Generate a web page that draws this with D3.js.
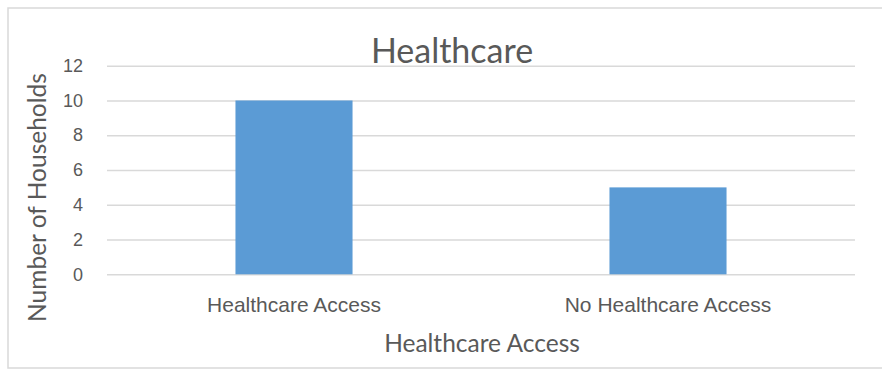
<!DOCTYPE html>
<html>
<head>
<meta charset="utf-8">
<script src="https://cdn.jsdelivr.net/npm/d3@7/dist/d3.min.js"></script>
<style>
  html, body { margin: 0; padding: 0; background: #fff; }
  svg { display: block; font-family: Lato, "Open Sans", sans-serif; }
</style>
</head>
<body>
<svg id="chart" width="882" height="369"></svg>
<script>
// Households by healthcare access
const categories = ["Healthcare Access", "No Healthcare Access"];
const households = [10, 5];
const yTicks = [0, 2, 4, 6, 8, 10, 12];

const chartTitle = "Healthcare";
const xTitle = "Healthcare Access";
const yTitle = "Number of Households";

const svg = d3.select("#chart");
const plot = { left: 107, right: 855, top: 65.7, bottom: 274.3 };
const textColor = "#595959";
const gridColor = "#d9d9d9";

// chart frame
svg.append("rect")
  .attr("x", 8).attr("y", 8)
  .attr("width", 884).attr("height", 360)
  .attr("fill", "#fff")
  .attr("stroke", gridColor)
  .attr("stroke-width", 1.5);

const x = d3.scaleBand()
  .domain(categories)
  .range([plot.left, plot.right])
  .paddingInner(0.687)
  .paddingOuter(0.3435);

const y = d3.scaleLinear()
  .domain([0, 12])
  .range([plot.bottom, plot.top]);

// horizontal gridlines with value labels
const yAxis = d3.axisLeft(y)
  .tickValues(yTicks)
  .tickSize(-(plot.right - plot.left))
  .tickPadding(24)
  .tickFormat(d3.format("d"));

const gy = svg.append("g")
  .attr("transform", `translate(${plot.left},0)`)
  .call(yAxis);
gy.select(".domain").remove();
gy.selectAll(".tick line")
  .attr("stroke", gridColor)
  .attr("stroke-width", 1.5);
gy.selectAll(".tick text")
  .attr("fill", textColor)
  .style("font-size", "18px");

// bars
svg.append("g")
  .selectAll("rect")
  .data(categories)
  .join("rect")
  .attr("x", d => x(d))
  .attr("width", x.bandwidth())
  .attr("y", (d, i) => y(households[i]))
  .attr("height", (d, i) => y(0) - y(households[i]))
  .attr("fill", "#5b9bd5");

// category labels
const xAxis = d3.axisBottom(x).tickSize(0).tickPadding(23);
const gx = svg.append("g")
  .attr("transform", `translate(0,${plot.bottom})`)
  .call(xAxis);
gx.select(".domain").remove();
gx.selectAll(".tick text")
  .attr("fill", textColor)
  .style("font-size", "21px");

// titles
svg.append("text")
  .attr("x", 452).attr("y", 63)
  .attr("text-anchor", "middle")
  .attr("fill", textColor)
  .style("font-size", "34px")
  .text(chartTitle);

svg.append("text")
  .attr("x", 482).attr("y", 352)
  .attr("text-anchor", "middle")
  .attr("fill", textColor)
  .style("font-size", "24.5px")
  .text(xTitle);

svg.append("text")
  .attr("transform", "translate(46,197.5) rotate(-90)")
  .attr("text-anchor", "middle")
  .attr("fill", textColor)
  .style("font-size", "24.5px")
  .text(yTitle);
</script>
</body>
</html>
